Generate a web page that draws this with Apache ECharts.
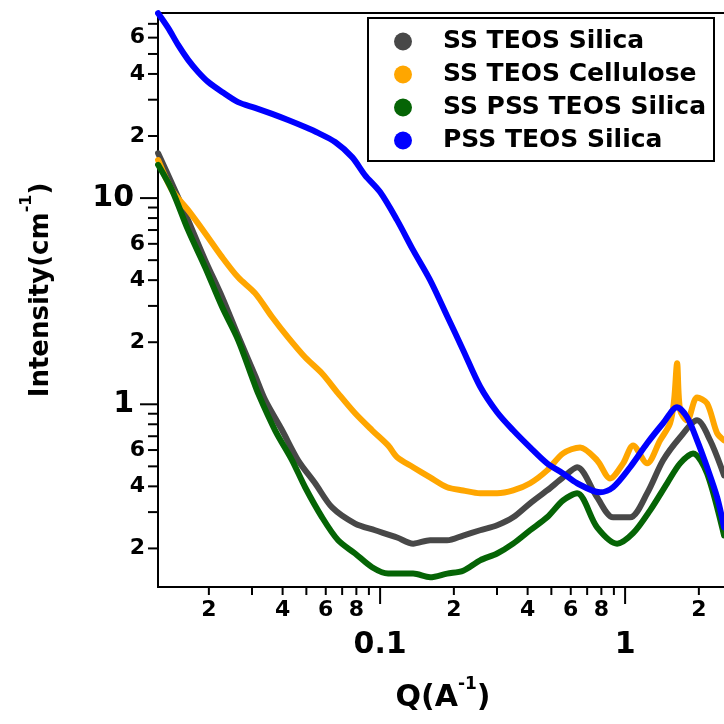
<!DOCTYPE html>
<html>
<head>
<meta charset="utf-8">
<script src="https://cdn.jsdelivr.net/npm/echarts@6/dist/echarts.min.js"></script>
<style>
  html, body { margin: 0; padding: 0; background: #fff; }
  #chart { width: 724px; height: 724px; }
</style>
</head>
<body>
<div id="chart"></div>
<script>
// Scattering curves: Q (1/Å) and intensity (1/cm)
const seriesNames = ['SS TEOS Silica', 'SS TEOS Cellulose', 'SS PSS TEOS Silica', 'PSS TEOS Silica'];
const seriesColors = ['#484848', '#ffa600', '#056405', '#0000ff'];

const qSsTeosSilica = [0.01241, 0.01456, 0.01646, 0.01931, 0.02266, 0.02633, 0.03087, 0.03393, 0.03981, 0.04626, 0.05429, 0.06369, 0.07906, 0.09541, 0.1173, 0.1364, 0.1600, 0.1877, 0.2183, 0.2559, 0.3003, 0.3491, 0.4095, 0.4804, 0.5583, 0.6370, 0.7686, 0.8933, 1.048, 1.230, 1.429, 1.677, 1.967, 2.223, 2.535];
const iSsTeosSilica = [16.5, 10.9, 7.82, 5.00, 3.31, 2.15, 1.38, 1.05, 0.748, 0.535, 0.414, 0.316, 0.264, 0.245, 0.226, 0.211, 0.219, 0.219, 0.231, 0.245, 0.259, 0.283, 0.331, 0.382, 0.442, 0.495, 0.354, 0.283, 0.283, 0.370, 0.535, 0.692, 0.836, 0.669, 0.452];

const qSsTeosCellulose = [0.01241, 0.01416, 0.01646, 0.01931, 0.02266, 0.02633, 0.03087, 0.03624, 0.04210, 0.04942, 0.05797, 0.06740, 0.07906, 0.09276, 0.1078, 0.1173, 0.1364, 0.1600, 0.1877, 0.2183, 0.2559, 0.3003, 0.3491, 0.4095, 0.4804, 0.5583, 0.6551, 0.7686, 0.8686, 0.9813, 1.078, 1.230, 1.390, 1.526, 1.585, 1.630, 1.677, 1.791, 1.967, 2.161, 2.375, 2.535];
const iSsTeosCellulose = [15.3, 10.9, 8.74, 6.76, 5.17, 4.13, 3.46, 2.65, 2.11, 1.69, 1.41, 1.13, 0.904, 0.748, 0.632, 0.553, 0.495, 0.442, 0.396, 0.382, 0.370, 0.370, 0.382, 0.414, 0.478, 0.578, 0.618, 0.535, 0.437, 0.517, 0.632, 0.517, 0.669, 0.809, 1.05, 1.58, 0.935, 0.836, 1.08, 1.01, 0.723, 0.669];

const qSsPssTeosSilica = [0.01241, 0.01416, 0.01646, 0.01931, 0.02266, 0.02633, 0.03003, 0.03177, 0.03726, 0.04372, 0.04942, 0.05797, 0.06740, 0.07906, 0.09276, 0.1078, 0.1364, 0.1600, 0.1877, 0.2183, 0.2559, 0.3003, 0.3491, 0.4095, 0.4804, 0.5583, 0.6370, 0.7686, 0.9276, 1.078, 1.265, 1.484, 1.677, 1.895, 2.161, 2.535];
const iSsPssTeosSilica = [14.5, 10.9, 6.99, 4.62, 2.96, 2.05, 1.35, 1.13, 0.748, 0.535, 0.396, 0.283, 0.219, 0.189, 0.162, 0.151, 0.151, 0.145, 0.151, 0.156, 0.175, 0.189, 0.211, 0.245, 0.283, 0.342, 0.370, 0.253, 0.211, 0.237, 0.306, 0.414, 0.517, 0.578, 0.462, 0.231];

const qPssTeosSilica = [0.01241, 0.01364, 0.01498, 0.01646, 0.01808, 0.01986, 0.02266, 0.02633, 0.03087, 0.03624, 0.04210, 0.04942, 0.05583, 0.06551, 0.07688, 0.08686, 0.1000, 0.1173, 0.1364, 0.1600, 0.1877, 0.2183, 0.2559, 0.3003, 0.3491, 0.4095, 0.4804, 0.5583, 0.6370, 0.7906, 0.8933, 1.048, 1.230, 1.429, 1.630, 1.791, 1.967, 2.161, 2.375, 2.535];
const iPssTeosSilica = [78.8, 66.9, 55.3, 46.8, 40.9, 36.6, 32.7, 29.2, 27.4, 25.6, 23.9, 22.1, 20.7, 18.7, 15.8, 12.9, 10.7, 7.82, 5.59, 4.00, 2.68, 1.83, 1.22, 0.915, 0.748, 0.618, 0.517, 0.462, 0.414, 0.374, 0.396, 0.495, 0.647, 0.809, 0.967, 0.865, 0.669, 0.495, 0.354, 0.253];

// Axis ranges and tick marks
const X_MIN = 0.0124, X_MAX = 3;
const Y_MIN = 0.13, Y_MAX = 79;

const xMajorTicks = [0.1, 1];
const xMajorLabels = ['0.1', '1'];
const xMinorTicks = [0.02, 0.03, 0.04, 0.05, 0.06, 0.07, 0.08, 0.09, 0.2, 0.3, 0.4, 0.5, 0.6, 0.7, 0.8, 0.9, 2];
const xMinorLabels = ['2', '', '4', '', '6', '', '8', '', '2', '', '4', '', '6', '', '8', '', '2'];

const yMajorTicks = [1, 10];
const yMajorLabels = ['1', '10'];
const yMinorTicks = [0.2, 0.3, 0.4, 0.5, 0.6, 0.7, 0.8, 0.9, 2, 3, 4, 5, 6, 7, 8, 9, 20, 30, 40, 50, 60, 70];
const yMinorLabels = ['2', '', '4', '', '6', '', '', '', '2', '', '4', '', '6', '', '', '', '2', '', '4', '', '6', ''];

const FONT = '"DejaVu Sans", "Liberation Sans", sans-serif';

function zip(xs, ys) { return xs.map((x, i) => [x, ys[i]]); }

const curves = [
  zip(qSsTeosSilica, iSsTeosSilica),
  zip(qSsTeosCellulose, iSsTeosCellulose),
  zip(qSsPssTeosSilica, iSsPssTeosSilica),
  zip(qPssTeosSilica, iPssTeosSilica)
];

// Tick marks + labels drawn through the axes' own log scales
function tickSeries(name, values, labels, isX, len, fontSize, labelOffset) {
  return {
    type: 'custom',
    name: name,
    silent: true,
    animation: false,
    clip: false,
    z: 10,
    data: values.map(v => isX ? [v, Y_MIN] : [X_MIN, v]),
    renderItem: function (params, api) {
      const p = api.coord([api.value(0), api.value(1)]);
      const label = labels[params.dataIndex];
      const children = [{
        type: 'line',
        shape: isX ? { x1: p[0], y1: p[1], x2: p[0], y2: p[1] + len }
                   : { x1: p[0], y1: p[1], x2: p[0] - len, y2: p[1] },
        style: { stroke: '#000', lineWidth: 2 }
      }];
      if (label) {
        children.push({
          type: 'text',
          style: {
            text: label,
            x: isX ? p[0] : p[0] - labelOffset,
            y: isX ? p[1] + labelOffset : p[1],
            align: isX ? 'center' : 'right',
            verticalAlign: 'middle',
            fontFamily: FONT,
            fontWeight: 'bold',
            fontSize: fontSize,
            fill: '#000'
          }
        });
      }
      return { type: 'group', children: children };
    }
  };
}

const chart = echarts.init(document.getElementById('chart'), null, { renderer: 'canvas' });

const lineSeries = seriesNames.map((name, k) => ({
  type: 'line',
  name: name,
  data: curves[k],
  symbol: 'none',
  showSymbol: false,
  smooth: 0.3,
  animation: false,
  z: 2 + k,
  itemStyle: { color: seriesColors[k] },
  lineStyle: { color: seriesColors[k], width: 6, cap: 'round', join: 'round' }
}));

chart.setOption({
  backgroundColor: '#fff',
  animation: false,
  grid: {
    left: 158, top: 13, right: -18, bottom: 137,
    show: true, borderColor: '#000', borderWidth: 2,
    outerBoundsMode: 'none'
  },
  legend: {
    data: seriesNames,
    orient: 'vertical',
    left: 368, top: 18,
    icon: 'circle',
    itemWidth: 70, itemHeight: 18, itemGap: 8,
    padding: [11, 8, 8, 26],
    borderColor: '#000', borderWidth: 2,
    backgroundColor: '#fff',
    selectedMode: false,
    z: 20,
    textStyle: { fontFamily: FONT, fontWeight: 'bold', fontSize: 25, lineHeight: 25, color: '#000' }
  },
  xAxis: {
    type: 'log', logBase: 10, min: X_MIN, max: X_MAX,
    axisLine: { lineStyle: { color: '#000', width: 2 } },
    axisTick: { show: false }, axisLabel: { show: false },
    splitLine: { show: false }, minorTick: { show: false },
    name: 'Q(A{sup|-1})',
    nameLocation: 'middle', nameGap: 89,
    nameTextStyle: {
      fontFamily: FONT, fontWeight: 'bold', fontSize: 30, lineHeight: 44, color: '#000',
      padding: [0, 14, 0, 0],
      rich: { sup: { fontFamily: FONT, fontWeight: 'bold', fontSize: 17, lineHeight: 17, verticalAlign: 'top', color: '#000' } }
    }
  },
  yAxis: {
    type: 'log', logBase: 10, min: Y_MIN, max: Y_MAX,
    axisLine: { lineStyle: { color: '#000', width: 2 } },
    axisTick: { show: false }, axisLabel: { show: false },
    splitLine: { show: false }, minorTick: { show: false },
    name: 'Intensity(cm{sup|-1})',
    nameLocation: 'middle', nameGap: 95, nameRotate: 90,
    nameTextStyle: {
      fontFamily: FONT, fontWeight: 'bold', fontSize: 26, lineHeight: 44, color: '#000',
      padding: [0, 0, 0, 20],
      rich: { sup: { fontFamily: FONT, fontWeight: 'bold', fontSize: 16, lineHeight: 16, verticalAlign: 'top', color: '#000' } }
    }
  },
  series: lineSeries.concat([
    tickSeries('xMajor', xMajorTicks, xMajorLabels, true, 17, 30, 58),
    tickSeries('xMinor', xMinorTicks, xMinorLabels, true, 8, 22, 23),
    tickSeries('yMajor', yMajorTicks, yMajorLabels, false, 18, 30, 24),
    tickSeries('yMinor', yMinorTicks, yMinorLabels, false, 10, 22, 13)
  ])
});
</script>
</body>
</html>
